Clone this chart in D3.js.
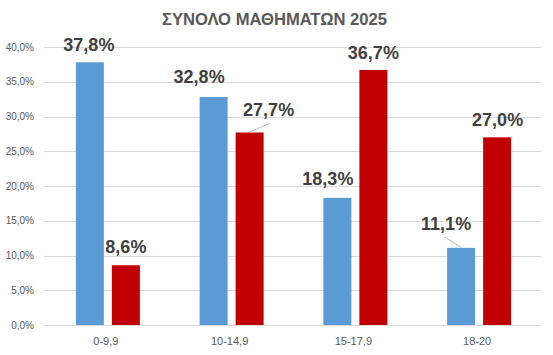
<!DOCTYPE html>
<html>
<head>
<meta charset="utf-8">
<script src="https://cdn.jsdelivr.net/npm/d3@7"></script>
<style>
  html, body { margin: 0; padding: 0; background: #fff; }
  svg { display: block; font-family: "Liberation Sans", Arial, sans-serif; }
</style>
</head>
<body>
<svg id="chart" width="553" height="355"></svg>
<script>
// ---- data ----
const title = "ΣΥΝΟΛΟ ΜΑΘΗΜΑΤΩΝ 2025";
const categories = ["0-9,9", "10-14,9", "15-17,9", "18-20"];
const seriesNames = ["A", "B"];
const seriesA = [0.378, 0.328, 0.183, 0.111];
const seriesB = [0.086, 0.277, 0.367, 0.270];
const yTicks = [0, 0.05, 0.10, 0.15, 0.20, 0.25, 0.30, 0.35, 0.40];

// ---- style ----
const colors = { A: "#5B9BD5", B: "#C00000" };
// manual label nudges (dx, dy) as in the original, and which have leader lines
const labelNudge = {
  A: [[-1, 0], [-14.5, -3], [-9.5, -2], [-15, -7]],
  B: [[0, -1], [19, -5.5], [0, 0], [0.5, 0]]
};
const leader = { A: [false, false, false, true], B: [false, true, false, false] };

const svg = d3.select("#chart");
const margin = { left: 44, right: 12, top: 47, bottom: 30 };
const W = 553, H = 355;

const x0 = d3.scaleBand().domain(categories).range([margin.left, W - margin.right - 2]).paddingInner(0).paddingOuter(0);
const groupW = 64;
const x1 = d3.scaleBand().domain(seriesNames).range([0, groupW]).paddingInner(8 / 36).paddingOuter(0);
const y = d3.scaleLinear().domain([0, 0.4]).range([H - margin.bottom, margin.top]);

const fmt = v => d3.format(".1f")(v * 100).replace(".", ",") + "%";

// gridlines
svg.append("g").selectAll("line").data(yTicks).join("line")
  .attr("x1", margin.left).attr("x2", W - margin.right)
  .attr("y1", d => Math.round(y(d)) + 0.5).attr("y2", d => Math.round(y(d)) + 0.5)
  .attr("stroke", "#d9d9d9").attr("stroke-width", 1);

// y axis labels
const yAxis = d3.axisLeft(y).tickValues(yTicks).tickSize(0).tickPadding(10).tickFormat(fmt);
const gy = svg.append("g").attr("transform", `translate(${margin.left},0)`).call(yAxis);
gy.select(".domain").remove();
gy.selectAll("text").attr("fill", "#595959").attr("font-size", "10px")
  .attr("font-family", "Liberation Sans, Arial, sans-serif");

// x axis labels
const xAxis = d3.axisBottom(x0).tickSize(0).tickPadding(12);
const gx = svg.append("g").attr("transform", `translate(0,${y(0)})`).call(xAxis);
gx.select(".domain").remove();
gx.selectAll("text").attr("fill", "#595959").attr("font-size", "11px")
  .attr("font-family", "Liberation Sans, Arial, sans-serif");

// bars
const rows = [];
categories.forEach((c, i) => {
  rows.push({ cat: c, i, s: "A", v: seriesA[i] });
  rows.push({ cat: c, i, s: "B", v: seriesB[i] });
});
const gStart = c => x0(c) + (x0.bandwidth() - groupW) / 2 + 2;
const barX = d => gStart(d.cat) + x1(d.s);
const barCx = d => barX(d) + x1.bandwidth() / 2;

svg.append("g").selectAll("rect").data(rows).join("rect")
  .attr("x", barX).attr("width", x1.bandwidth())
  .attr("y", d => y(d.v)).attr("height", d => y(0) - y(d.v))
  .attr("fill", d => colors[d.s]);

// data labels
const lx = d => barCx(d) + labelNudge[d.s][d.i][0];
const ly = d => y(d.v) - 11 + labelNudge[d.s][d.i][1];

svg.append("g").selectAll("line").data(rows.filter(d => leader[d.s][d.i])).join("line")
  .attr("x1", d => barCx(d)).attr("y1", d => y(d.v) - 0.5)
  .attr("x2", d => lx(d) + (d.s === "A" ? -1 : 1)).attr("y2", d => ly(d) + 7.5)
  .attr("stroke", "#a6a6a6").attr("stroke-width", 0.8);

svg.append("g").selectAll("text").data(rows).join("text")
  .attr("x", lx).attr("y", ly)
  .attr("text-anchor", "middle")
  .attr("font-size", "18px").attr("font-weight", "bold")
  .attr("fill", "#404040")
  .text(d => fmt(d.v));

// title
svg.append("text")
  .attr("x", 274.5).attr("y", 25)
  .attr("text-anchor", "middle")
  .attr("font-size", "16px").attr("font-weight", "bold")
  .attr("fill", "#595959")
  .attr("textLength", 225).attr("lengthAdjust", "spacingAndGlyphs")
  .text(title);
</script>
</body>
</html>
